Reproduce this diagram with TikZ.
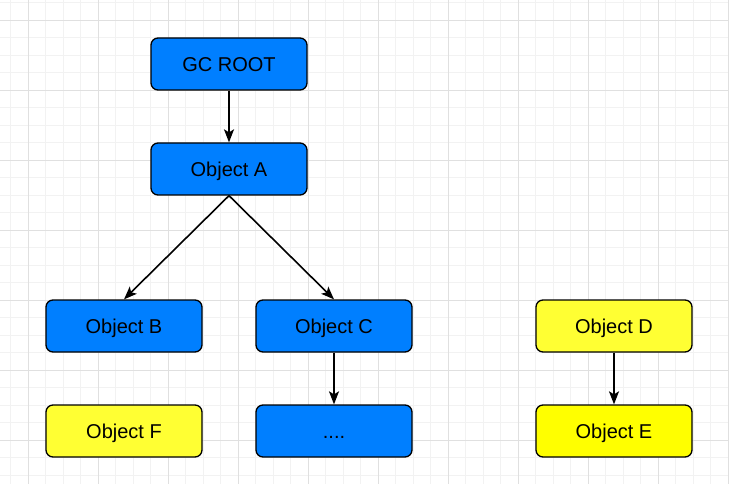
\documentclass[tikz,border=0pt]{standalone}
\usepackage{fontspec}
\setmainfont{Liberation Sans}
\usetikzlibrary{arrows.meta}
\definecolor{boxblue}{RGB}{0,127,255}
\definecolor{boxyellow}{RGB}{255,255,51}
\definecolor{boxyellowb}{RGB}{255,255,0}
\definecolor{gridminor}{RGB}{242,242,242}
\definecolor{gridmajor}{RGB}{224,224,224}
\tikzset{
  obj/.style={draw=black, line width=1.3pt, rounded corners=7pt, minimum width=156pt, minimum height=52pt, inner sep=0pt, text height=14.3pt, text depth=0pt, font=\fontsize{20}{24}\selectfont, text=black},
  blue/.style={obj, fill=boxblue},
  yel/.style={obj, fill=boxyellow},
  yelb/.style={obj, fill=boxyellowb},
  conn/.style={draw=black, line width=1.6pt, -{Stealth[length=13pt,width=10pt,inset=3pt]}}
}
\begin{document}
\begin{tikzpicture}[x=1pt,y=-1pt]
\useasboundingbox (0,0) rectangle (729,484);
\fill[white] (0,0) rectangle (729,484);
% grid minor
\foreach \i in {0,...,41} {
  \draw[gridminor, line width=0.8pt] ({10.7+17.5*\i},0) -- ({10.7+17.5*\i},484);
}
\foreach \j in {0,...,27} {
  \draw[gridminor, line width=0.8pt] (0,{2.7+17.5*\j}) -- (729,{2.7+17.5*\j});
}
\foreach \i in {0,...,10} {
  \draw[gridmajor, line width=0.8pt] ({28.2+70*\i},0) -- ({28.2+70*\i},484);
}
\foreach \j in {0,...,6} {
  \draw[gridmajor, line width=0.8pt] (0,{20.2+70*\j}) -- (729,{20.2+70*\j});
}
% nodes
\node[blue] (root) at (229,64) {GC ROOT};
\node[blue] (a) at (229,169) {Object A};
\node[blue] (b) at (124,326) {Object B};
\node[blue] (c) at (334,326) {Object C};
\node[yel] (d) at (614,326) {Object D};
\node[yel] (f) at (124,431) {Object F};
\node[blue] (dots) at (334,431) {....};
\node[yelb] (e) at (614,431) {Object E};
% connectors
\draw[conn] (root.south) -- (a.north);
\draw[conn] (a.south) -- (b.north);
\draw[conn] (a.south) -- (c.north);
\draw[conn] (c.south) -- (dots.north);
\draw[conn] (d.south) -- (e.north);
\end{tikzpicture}
\end{document}
